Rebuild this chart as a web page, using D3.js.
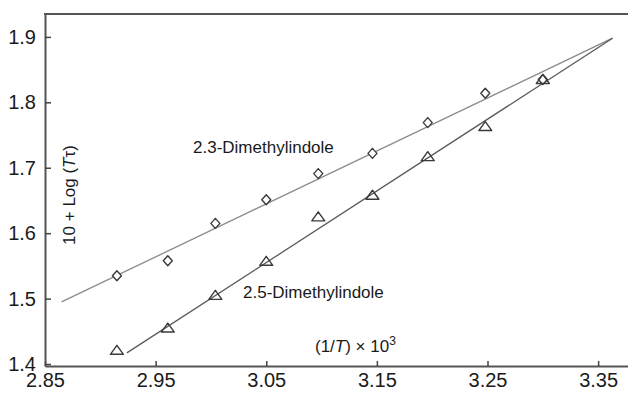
<!DOCTYPE html>
<html>
<head>
<meta charset="utf-8">
<script src="https://cdn.jsdelivr.net/npm/d3@7"></script>
<style>
  body { margin: 0; background: #fff; }
  text { font-family: "Liberation Sans", Arial, sans-serif; fill: #1a1a1a; }
</style>
</head>
<body>
<div id="chart"></div>
<script>
// data
const xTicks = [2.85, 2.95, 3.05, 3.15, 3.25, 3.35];
const yTicks = [1.4, 1.5, 1.6, 1.7, 1.8, 1.9];

const x23 = [2.915, 2.961, 3.004, 3.050, 3.097, 3.146, 3.196, 3.248, 3.300];
const y23 = [1.535, 1.558, 1.615, 1.651, 1.691, 1.722, 1.769, 1.814, 1.835];

const x25 = [2.915, 2.961, 3.004, 3.050, 3.097, 3.146, 3.196, 3.248, 3.300];
const y25 = [1.421, 1.455, 1.505, 1.557, 1.625, 1.658, 1.717, 1.763, 1.835];

// fitted lines (end points)
const fit23 = [[2.865, 1.495], [3.363, 1.898]];
const fit25 = [[2.924, 1.417], [3.363, 1.898]];

const width = 628, height = 393;
const margin = { top: 14, right: 0, bottom: 27, left: 45 };

const svg = d3.select("#chart").append("svg")
  .attr("width", width)
  .attr("height", height);

const x = d3.scaleLinear().domain([2.85, 3.377]).range([margin.left, width - margin.right]);
const y = d3.scaleLinear().domain([1.397, 1.935]).range([height - margin.bottom, margin.top]);

// axes, ticks pointing inward
const xAxis = svg.append("g")
  .attr("transform", "translate(0," + y.range()[0] + ")")
  .call(d3.axisBottom(x).tickValues(xTicks).tickFormat(d3.format(".2f")).tickSize(-5).tickSizeOuter(0).tickPadding(7));
const yAxis = svg.append("g")
  .attr("transform", "translate(" + margin.left + ",0)")
  .call(d3.axisLeft(y).tickValues(yTicks).tickFormat(d3.format(".1f")).tickSize(-6).tickSizeOuter(0).tickPadding(9));

[xAxis, yAxis].forEach(g => {
  g.select(".domain").attr("stroke", "#555").attr("stroke-width", 2);
  g.selectAll(".tick line").attr("stroke", "#444").attr("stroke-width", 1.5);
  g.selectAll(".tick text").style("font-size", "20px").attr("fill", "#1a1a1a")
    .style("font-family", "Liberation Sans, Arial, sans-serif");
});

// top frame line
svg.append("line")
  .attr("x1", x.range()[0] - 1).attr("x2", x.range()[1])
  .attr("y1", y.range()[1]).attr("y2", y.range()[1])
  .attr("stroke", "#555").attr("stroke-width", 2);

// fit lines
const line = d3.line().x(d => x(d[0])).y(d => y(d[1]));
svg.append("path").datum(fit23).attr("d", line)
  .attr("fill", "none").attr("stroke", "#8a8a8a").attr("stroke-width", 1.3);
svg.append("path").datum(fit25).attr("d", line)
  .attr("fill", "none").attr("stroke", "#5a5a5a").attr("stroke-width", 1.3);

// markers
const diamond = "M0,-5 L4.5,0 L0,5 L-4.5,0 Z";
const triangle = "M0,-5 L6.5,4 L-6.5,4 Z";

svg.selectAll(".d23").data(x23).enter().append("path")
  .attr("class", "d23")
  .attr("d", diamond)
  .attr("transform", (d, i) => "translate(" + x(d) + "," + y(y23[i]) + ")")
  .attr("fill", "#fff").attr("stroke", "#3a3a3a").attr("stroke-width", 1.4)
  .attr("stroke-linejoin", "round");

svg.selectAll(".t25").data(x25).enter().append("path")
  .attr("class", "t25")
  .attr("d", triangle)
  .attr("transform", (d, i) => "translate(" + x(d) + "," + y(y25[i]) + ")")
  .attr("fill", "none").attr("stroke", "#3a3a3a").attr("stroke-width", 1.4)
  .attr("stroke-linejoin", "round");

// series labels
svg.append("text").attr("x", 193).attr("y", 153)
  .style("font-size", "17px").text("2.3-Dimethylindole");
svg.append("text").attr("x", 243).attr("y", 298)
  .style("font-size", "17px").text("2.5-Dimethylindole");

// axis titles
const xt = svg.append("text").attr("x", 315).attr("y", 352).style("font-size", "17px");
xt.append("tspan").text("(1/");
xt.append("tspan").style("font-style", "italic").text("T");
xt.append("tspan").text(") \u00d7 10");
xt.append("tspan").attr("dy", -7).style("font-size", "12px").text("3");

const yt = svg.append("text")
  .attr("transform", "translate(75,195) rotate(-90)")
  .attr("text-anchor", "middle")
  .style("font-size", "17px");
yt.append("tspan").text("10 + Log (");
yt.append("tspan").style("font-style", "italic").text("T");
yt.append("tspan").text("\u03c4)");
</script>
</body>
</html>
